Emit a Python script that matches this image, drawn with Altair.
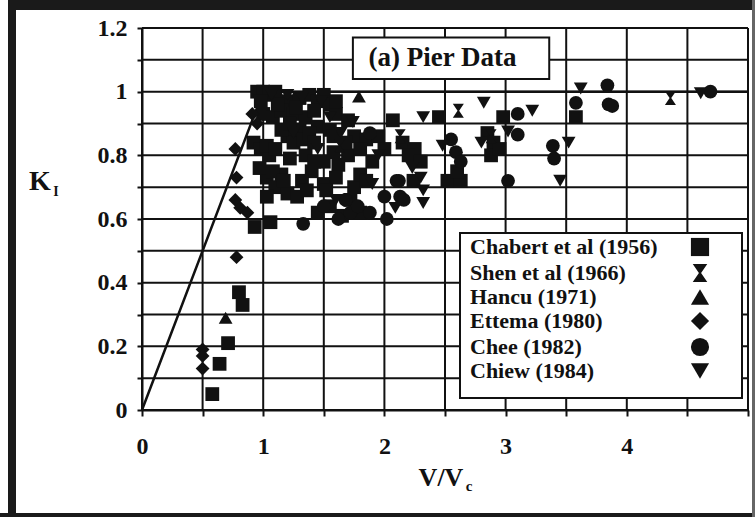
import altair as alt
import pandas as pd

# ---------------- data ----------------
series = ["Chabert et al (1956)", "Shen et al (1966)", "Hancu (1971)",
          "Ettema (1980)", "Chee (1982)", "Chiew (1984)"]
shapes = ["square", "M-0.8,-1L0.8,-1L0.12,0L0.8,1L-0.8,1L-0.12,0Z",
          "triangle-up", "diamond", "circle", "triangle-down"]

chabert_x = [0.95, 1.00, 1.05, 1.10, 0.98, 1.20, 1.30, 1.38, 1.45, 1.50, 1.55,
             1.00, 1.08, 1.15, 1.25, 1.35, 1.42, 1.60, 1.70, 2.07, 2.45, 2.98, 3.58,
             0.92, 0.98, 1.20, 1.25, 1.30, 1.45, 1.55, 1.75, 1.85, 2.15, 2.25, 2.85, 2.90,
             1.05, 1.35, 1.50, 1.58, 1.62, 1.70, 1.80, 1.90, 2.20, 2.30, 2.88, 2.95,
             1.03, 1.10, 1.15, 1.20, 1.40, 1.50, 1.60, 1.75, 1.80, 2.24, 2.52, 2.63, 2.60,
             0.93, 1.06, 1.03, 1.28, 1.45, 1.55, 1.65, 1.80,
             1.15, 1.22, 1.33, 1.38, 1.03, 1.10, 0.97, 1.08, 1.17, 1.32, 1.42, 1.52,
             1.36, 1.12, 1.27, 1.60, 1.68, 1.85, 1.72, 1.95, 2.00, 1.58, 1.42, 1.22,
             0.80, 0.83, 0.71, 0.64, 0.58]
chabert_y = [1.00, 1.00, 0.99, 1.00, 0.97, 0.97, 0.98, 0.99, 0.97, 0.99, 0.96,
             0.93, 0.92, 0.94, 0.93, 0.92, 0.94, 0.93, 0.91, 0.91, 0.92, 0.92, 0.92,
             0.84, 0.82, 0.86, 0.84, 0.88, 0.89, 0.88, 0.86, 0.85, 0.84, 0.82, 0.87, 0.84,
             0.80, 0.80, 0.78, 0.81, 0.77, 0.80, 0.82, 0.78, 0.80, 0.78, 0.80, 0.82,
             0.73, 0.70, 0.74, 0.68, 0.75, 0.71, 0.73, 0.70, 0.74, 0.72, 0.72, 0.72, 0.75,
             0.575, 0.59, 0.67, 0.67, 0.62, 0.64, 0.61, 0.62,
             0.88, 0.90, 0.85, 0.87, 0.83, 0.82, 0.76, 0.75, 0.72, 0.72, 0.78, 0.69,
             0.69, 0.96, 0.95, 0.97, 0.84, 0.72, 0.66, 0.86, 0.82, 0.86, 0.84, 0.79,
             0.37, 0.33, 0.21, 0.145, 0.05]

shen_x = [2.13, 2.61, 4.36, 2.88, 1.63]
shen_y = [0.86, 0.94, 0.98, 0.86, 0.83]

hancu_x = [1.79, 0.69]
hancu_y = [0.985, 0.29]

ettema_x = [0.50, 0.50, 0.50, 0.78, 0.78, 0.77, 0.77, 0.81, 0.87, 0.91, 0.95]
ettema_y = [0.19, 0.17, 0.13, 0.48, 0.73, 0.82, 0.66, 0.635, 0.62, 0.93, 0.90]

chee_x = [1.33, 1.88, 2.10, 2.13, 2.00, 2.02, 1.88, 2.59, 2.63, 3.02, 3.10, 3.10, 3.39, 3.40,
          3.58, 3.84, 3.85, 3.88, 4.69, 1.62, 1.72, 1.78, 1.50, 1.68, 2.16, 2.55, 2.12]
chee_y = [0.585, 0.87, 0.72, 0.67, 0.67, 0.60, 0.62, 0.81, 0.78, 0.72, 0.93, 0.865, 0.83, 0.79,
          0.965, 1.02, 0.96, 0.955, 1.00, 0.60, 0.62, 0.64, 0.64, 0.66, 0.66, 0.85, 0.72]

chiew_x = [1.07, 1.20, 1.32, 1.48, 1.74, 1.64, 1.95, 2.32, 2.82, 3.22, 3.62, 2.48, 2.23, 2.32,
           2.32, 2.09, 3.45, 3.52, 3.02, 2.80, 2.30, 4.61, 1.45, 1.60, 1.90, 1.25, 1.55]
chiew_y = [0.99, 0.99, 0.98, 0.97, 0.905, 0.87, 0.80, 0.92, 0.965, 0.94, 1.01, 0.83, 0.76, 0.69,
           0.65, 0.635, 0.72, 0.84, 0.875, 0.84, 0.73, 0.995, 0.82, 0.66, 0.71, 0.87, 0.92]

envelope_x = [0, 1, 5]
envelope_y = [0, 1, 1]

x_ticks = [0, 0.5, 1, 1.5, 2, 2.5, 3, 3.5, 4, 4.5, 5]
y_ticks = [0, 0.1, 0.2, 0.3, 0.4, 0.5, 0.6, 0.7, 0.8, 0.9, 1.0, 1.1, 1.2]

panel_label = "(a) Pier Data"
panel_box_x = [1.74, 3.36]
panel_box_y = [1.04, 1.17]
panel_text_xy = [2.48, 1.105]

# ---------------- build tables ----------------
frames = []
for name, xs_, ys_ in zip(series,
                          [chabert_x, shen_x, hancu_x, ettema_x, chee_x, chiew_x],
                          [chabert_y, shen_y, hancu_y, ettema_y, chee_y, chiew_y]):
    frames.append(pd.DataFrame({"V": xs_, "K": ys_, "Source": name}))
pts = pd.concat(frames, ignore_index=True)

env = pd.DataFrame({"V": envelope_x, "K": envelope_y})

FONT = "Liberation Serif"
INK = "#111111"

xs = alt.Scale(domain=[0, 5], nice=False, zero=False)
ys = alt.Scale(domain=[0, 1.2], nice=False, zero=False)

x_axis = alt.Axis(values=x_ticks, title=None, grid=False, zindex=1,
                  labelExpr="datum.value % 1 == 0 && datum.value < 5 ? datum.value + '' : ''",
                  labelFlush=False, labelOverlap=False, tickSize=6, labelPadding=18)
y_axis = alt.Axis(values=y_ticks, title=None, grid=False, zindex=1,
                  labelExpr="round(datum.value*10) % 2 == 0 ? (round(datum.value*10)/10) + '' : ''",
                  labelFlush=False, labelOverlap=False, tickSize=5, labelPadding=10)

def X(f):
    return alt.X(f, scale=xs, axis=x_axis)

def Y(f):
    return alt.Y(f, scale=ys, axis=y_axis)

def band(x1, x2, y1, y2, c="#1a1a1a"):
    return alt.Chart(pd.DataFrame({"a": [0]})).mark_rect(fill=c, strokeWidth=0).encode(
        x=alt.value(x1), x2=alt.value(x2), y=alt.value(y1), y2=alt.value(y2))

# top frame: black strip reaching into the plot, then white over all but its top 10 px
top_black = band(-134, 613, -28, 4)
top_white = band(-126, 610, -18, 4, "white")

# grid lines drawn as marks (so they sit above the white strip)
vgrid = alt.Chart(pd.DataFrame({"g": x_ticks})).mark_rule(color=INK, strokeWidth=2).encode(
    x=X("g:Q"))
hgrid = alt.Chart(pd.DataFrame({"g": y_ticks})).mark_rule(color=INK, strokeWidth=2).encode(
    y=Y("g:Q"))

envelope = alt.Chart(env).mark_line(color=INK, strokeWidth=2.5).encode(
    x=X("V:Q"), y=Y("K:Q"))

points = alt.Chart(pts).mark_point(filled=True, color=INK, size=190, opacity=1).encode(
    x=X("V:Q"),
    y=Y("K:Q"),
    shape=alt.Shape("Source:N", scale=alt.Scale(domain=series, range=shapes),
                    legend=alt.Legend(title=None, orient="none", legendX=541, legendY=202,
                                      labelFont=FONT, labelFontSize=22, labelFontWeight="bold",
                                      labelColor=INK, labelAlign="left",
                                      labelOffset={"expr": "-241"},
                                      labelLimit=400, symbolSize=330,
                                      symbolFillColor=INK, symbolStrokeColor=INK,
                                      padding=6, rowPadding=0)),
)

# legend frame (white box behind the legend entries)
legend_box = band(318, 600, 205, 370, "white").mark_rect(fill="white", stroke=INK, strokeWidth=2)

box_df = pd.DataFrame({"x1": [panel_box_x[0]], "x2": [panel_box_x[1]],
                       "y1": [panel_box_y[0]], "y2": [panel_box_y[1]]})
panel_box = alt.Chart(box_df).mark_rect(fill="white", stroke=INK, strokeWidth=2).encode(
    x=X("x1:Q"), x2="x2", y=Y("y1:Q"), y2="y2")

lab_df = pd.DataFrame({"x": [panel_text_xy[0]], "y": [panel_text_xy[1]], "t": [panel_label]})
panel_text = alt.Chart(lab_df).mark_text(font=FONT, fontSize=27, fontWeight="bold",
                                          color=INK, align="center", baseline="middle").encode(
    x=X("x:Q"), y=Y("y:Q"), text="t:N")

def txt(s, px, py, size, baseline="middle", align="center"):
    return alt.Chart(pd.DataFrame({"t": [s]})).mark_text(
        font=FONT, fontSize=size, fontWeight="bold", color=INK,
        align=align, baseline=baseline).encode(
        x=alt.value(px), y=alt.value(py), text="t:N")

k_title = txt("K", -102, 154, 28)
k_sub = txt("I", -86, 164, 14)
v_title = txt("V/V", 299, 450, 26)
v_sub = txt("c", 327, 458, 15)

frame = [
    band(-134, -126, -28, 489),            # left
    band(-142, 613, 485, 489),             # bottom
    band(610, 613, -28, 489, "#666666"),   # right
]

chart = alt.layer(top_black, top_white, vgrid, hgrid, envelope, points, legend_box,
                  panel_box, panel_text, k_title, k_sub, v_title, v_sub,
                  *frame).properties(
    width=606, height=382,
    padding={"left": 142, "top": 28, "right": 7, "bottom": 107},
    autosize=alt.AutoSizeParams(type="none"),
    background="white",
).configure_view(stroke=INK, strokeWidth=2, fill="white").configure_axis(
    domainColor=INK, domainWidth=2, tickColor=INK, tickWidth=2,
    labelFont=FONT, labelFontSize=24, labelFontWeight="bold", labelColor=INK,
)

chart.save("out.html", embed_options={"renderer": "svg", "actions": False})
